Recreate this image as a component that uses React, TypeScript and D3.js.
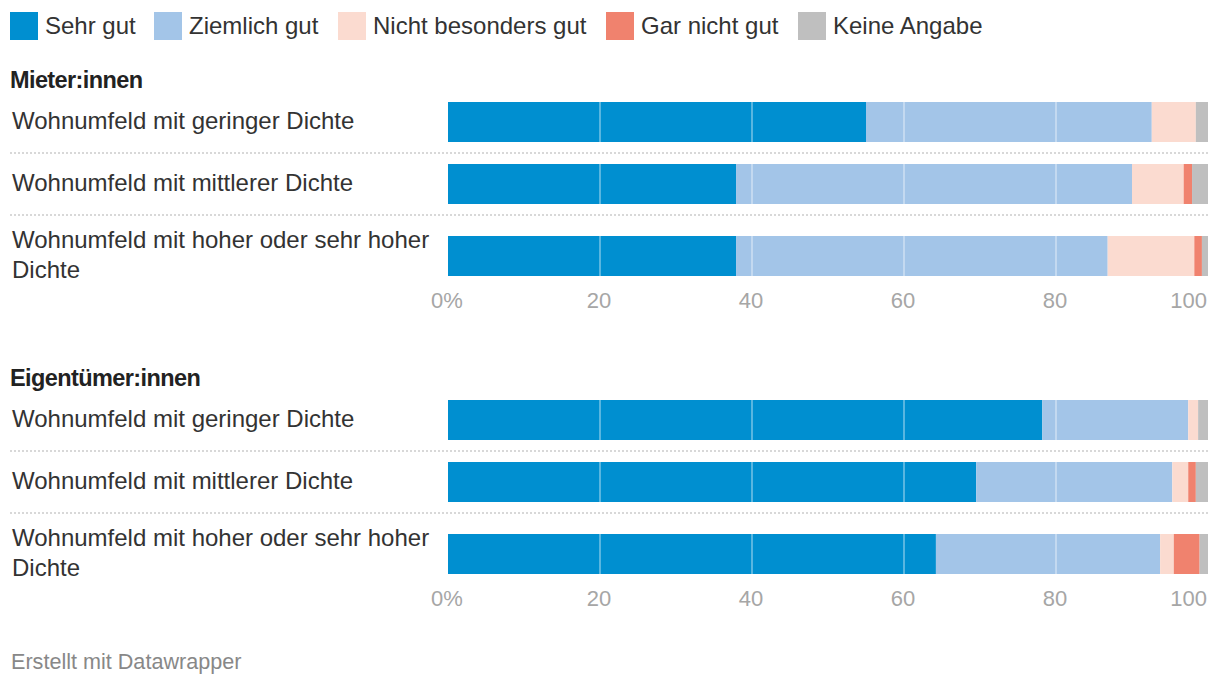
import React from "react";
import * as d3 from "d3";

const seriesNames = ["Sehr gut", "Ziemlich gut", "Nicht besonders gut", "Gar nicht gut", "Keine Angabe"];
const seriesColors = ["#008fd0", "#a3c5e8", "#fbdbd0", "#f0826e", "#bfbfbf"];
const groups = ["Mieter:innen", "Eigentümer:innen"];
const categories = [
  "Wohnumfeld mit geringer Dichte",
  "Wohnumfeld mit mittlerer Dichte",
  "Wohnumfeld mit hoher oder sehr hoher Dichte",
];
// values per group x category (Mieter: 0-2, Eigentümer: 3-5)
const sehrGut = [55.0, 37.9, 37.9, 78.2, 69.5, 64.2];
const ziemlichGut = [37.6, 52.1, 48.9, 19.2, 25.8, 29.5];
const nichtBesonders = [5.8, 6.8, 11.4, 1.3, 2.1, 1.8];
const garNicht = [0.0, 1.1, 1.0, 0.0, 1.0, 3.4];
const keineAngabe = [1.6, 2.1, 0.8, 1.3, 1.6, 1.1];
const ticks = [0, 20, 40, 60, 80, 100];

const FONT = "'Liberation Sans', Arial, Helvetica, sans-serif";

function wrap(text: string, maxW: number, size: number): string[] {
  const c = document.createElement("canvas").getContext("2d")!;
  c.font = `${size}px ${FONT}`;
  const words = text.split(" ");
  const lines: string[] = [];
  let cur = "";
  for (const w of words) {
    const t = cur ? cur + " " + w : w;
    if (c.measureText(t).width > maxW && cur) {
      lines.push(cur);
      cur = w;
    } else cur = t;
  }
  if (cur) lines.push(cur);
  return lines;
}

export default function App() {
  const W = 1220, H = 686;
  const x = d3.scaleLinear().domain([0, 100]).range([448, 1208]);
  const rows = groups.flatMap((g, gi) =>
    categories.map((c, ci) => {
      const i = gi * 3 + ci;
      return {
        key: `${gi}-${ci}`,
        gi, ci, label: c,
        [seriesNames[0]]: sehrGut[i],
        [seriesNames[1]]: ziemlichGut[i],
        [seriesNames[2]]: nichtBesonders[i],
        [seriesNames[3]]: garNicht[i],
        [seriesNames[4]]: keineAngabe[i],
      } as any;
    })
  );
  const stacked = d3.stack<any>().keys(seriesNames)(rows);
  const groupOffset = 298;
  const rowY = (gi: number, ci: number) => 102 + gi * groupOffset + ci * 62 + (ci === 2 ? 10 : 0);
  const barH = 40;
  const legendX = [10, 154, 338, 606, 798];

  return (
    <svg width={W} height={H} style={{ position: "absolute", left: 0, top: 0, fontFamily: FONT }}>
      <rect width={W} height={H} fill="#fff" />
      {seriesNames.map((s, i) => (
        <g key={s}>
          <rect x={legendX[i]} y={12} width={28} height={28} fill={seriesColors[i]} />
          <text x={legendX[i] + 35} y={33.5} fontSize={24} fill="#333">{s}</text>
        </g>
      ))}
      {groups.map((g, gi) => {
        const oy = gi * groupOffset;
        return (
          <g key={g}>
            <text x={10} y={88 + oy} fontSize={23.5} fontWeight={700} fill="#222" letterSpacing={-0.6}>{g}</text>
            {[0, 1].map((k) => (
              <line key={k} x1={10} x2={1208} y1={153 + oy + k * 62} y2={153 + oy + k * 62}
                stroke="#d8d8d8" strokeWidth={2} strokeDasharray="2,2" />
            ))}
            {ticks.map((t, ti) => (
              <text key={t} x={x(t) - 1} y={308 + oy} fontSize={22} fill="#a6a6a6"
                textAnchor={ti === ticks.length - 1 ? "end" : "middle"}>
                {ti === 0 ? `${t}%` : t}
              </text>
            ))}
          </g>
        );
      })}
      {rows.map((r, ri) => {
        const y0 = rowY(r.gi, r.ci);
        const lines = wrap(r.label, 436, 24);
        const cy = y0 + barH / 2;
        return (
          <g key={r.key}>
            {lines.map((l, li) => (
              <text key={li} x={12} y={cy + 6.5 + (li - (lines.length - 1) / 2) * 30} fontSize={24} fill="#333">{l}</text>
            ))}
            {stacked.map((s, si) => {
              const d = s[ri];
              const w = x(d[1]) - x(d[0]);
              if (w <= 0) return null;
              return <rect key={si} x={x(d[0])} y={y0} width={w} height={barH} fill={seriesColors[si]} />;
            })}
            {ticks.slice(1, -1).map((t) => (
              <line key={t} x1={x(t)} x2={x(t)} y1={y0} y2={y0 + barH} stroke="#fff" strokeOpacity={0.35} strokeWidth={2} />
            ))}
          </g>
        );
      })}
      <text x={11} y={669} fontSize={21.6} fill="#888">Erstellt mit Datawrapper</text>
    </svg>
  );
}
